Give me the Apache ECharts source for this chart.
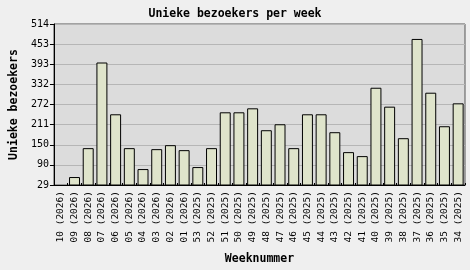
<!DOCTYPE html>
<html>
<head>
<meta charset="utf-8">
<script src="https://cdn.jsdelivr.net/npm/echarts@6/dist/echarts.min.js"></script>
<style>
html,body{margin:0;padding:0;background:#efefef;}
#c{width:470px;height:270px;}
</style>
</head>
<body>
<div id="c"></div>
<script>
const weeks = ['10','09','08','07','06','05','04','03','02','01','53','52','51','50','49','48','47','46','45','44','43','42','41','40','39','38','37','36','35','34'];
const years = ['2026','2026','2026','2026','2026','2026','2026','2026','2026','2026','2025','2025','2025','2025','2025','2025','2025','2025','2025','2025','2025','2025','2025','2025','2025','2025','2025','2025','2025','2025'];
const visitors = [29,53,140,398,242,140,77,137,149,134,83,140,248,248,260,194,212,140,242,242,188,128,116,322,265,170,469,307,206,275];
const yTickLabels = ['29','90','150','211','272','332','393','453','514'];
const yMin = 29, yMax = 514;

const categories = weeks.map((w, i) => w + ' (' + years[i] + ')');
const mono = '"DejaVu Sans Mono", "Liberation Mono", monospace';

const chart = echarts.init(document.getElementById('c'), null, {renderer: 'canvas'});
chart.setOption({
  backgroundColor: '#efefef',
  animation: false,
  title: {
    text: 'Unieke bezoekers per week',
    left: 'center',
    top: 3,
    textStyle: {fontFamily: mono, fontSize: 11.5, fontWeight: 'bold', color: '#000'}
  },
  grid: {
    left: 48, right: 5, top: 24, bottom: 84,
    show: true, backgroundColor: '#dcdcdc', borderColor: '#555', borderWidth: 1
  },
  xAxis: {
    type: 'category',
    data: categories,
    name: 'Weeknummer',
    nameLocation: 'middle',
    nameGap: 68,
    nameTextStyle: {fontFamily: mono, fontSize: 11.5, fontWeight: 'bold', color: '#000'},
    axisLine: {show: true, lineStyle: {color: '#000', width: 1}},
    axisTick: {show: true, inside: true, length: 2, lineStyle: {color: '#000'}},
    axisLabel: {rotate: 90, fontFamily: mono, fontSize: 9.5, color: '#000', margin: 6, interval: 0}
  },
  yAxis: [
    {
      type: 'value', min: yMin, max: yMax,
      axisLine: {show: false}, axisTick: {show: false}, axisLabel: {show: false}, splitLine: {show: false}
    },
    {
      type: 'value', min: 0, max: yMax - yMin, interval: (yMax - yMin) / 8,
      position: 'left',
      name: 'Unieke bezoekers',
      nameLocation: 'middle',
      nameGap: 33,
      nameTextStyle: {fontFamily: mono, fontSize: 11.5, fontWeight: 'bold', color: '#000'},
      axisLine: {show: true, lineStyle: {color: '#000', width: 1}},
      axisTick: {show: true, length: 4, lineStyle: {color: '#000'}},
      axisLabel: {
        fontFamily: mono, fontSize: 10, color: '#000', margin: 5,
        formatter: (v, i) => yTickLabels[i]
      },
      splitLine: {show: true, lineStyle: {color: '#b6b6b6', width: 1}}
    }
  ],
  series: [{
    type: 'bar',
    yAxisIndex: 0,
    data: visitors,
    barCategoryGap: '20%',
    itemStyle: {color: '#dfe4cb', borderColor: '#000', borderWidth: 1}
  }]
});
</script>
</body>
</html>
